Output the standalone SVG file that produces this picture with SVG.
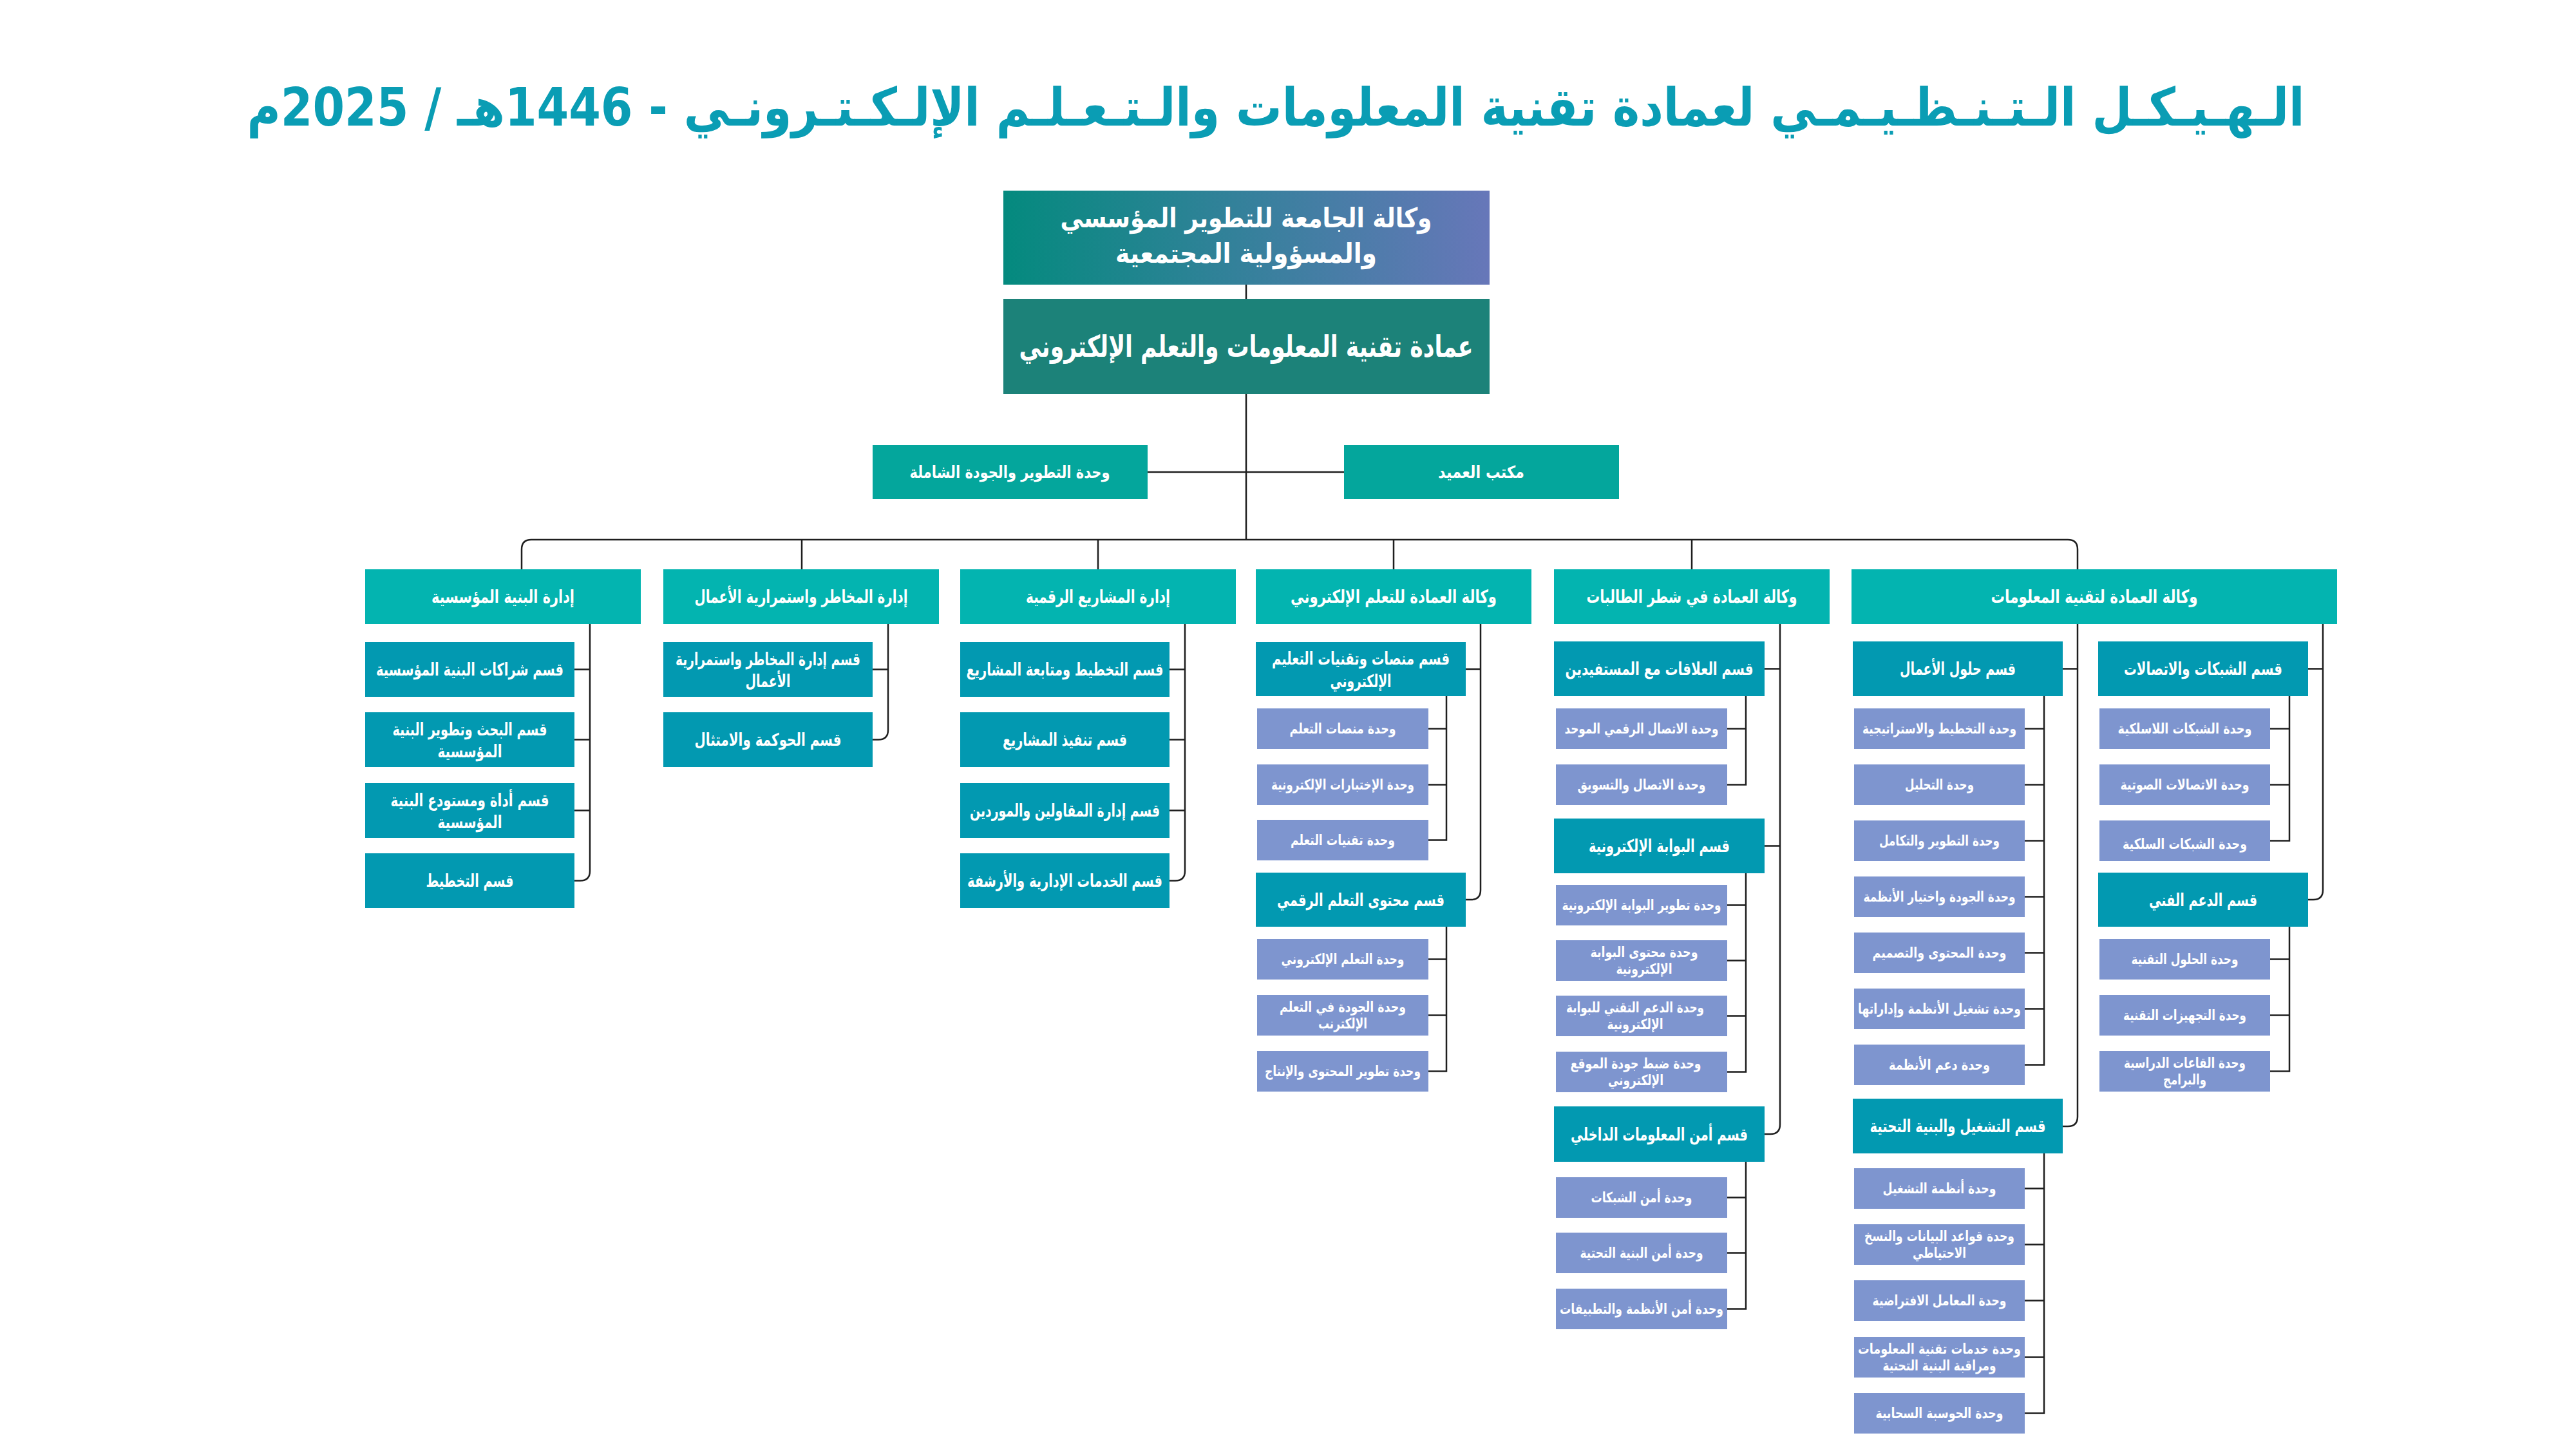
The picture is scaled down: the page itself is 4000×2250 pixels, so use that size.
<svg xmlns="http://www.w3.org/2000/svg" width="4000" height="2250" viewBox="0 0 4000 2250">
<defs>
<linearGradient id="gTop" x1="0" y1="0" x2="1" y2="0">
<stop offset="0" stop-color="#048a7e"/>
<stop offset="1" stop-color="#6777b9"/>
</linearGradient>
</defs>
<style>
.c{fill:none;stroke:#1e1e1e;stroke-width:2.5}
text{font-family:"DejaVu Sans",sans-serif;fill:#ffffff;font-weight:bold;text-anchor:middle;direction:rtl;dominant-baseline:central}
.l1{fill:#03b4b0}
.l2{fill:#0299b1}
.l3{fill:#7e95cf}
.sd{fill:#04a69c}
.f1{font-size:28px}
.f2{font-size:27px}
.f3{font-size:22px}
.ttl{font-size:82px;fill:#0a9db4}
</style>
<rect width="4000" height="2250" fill="#ffffff"/>
<text class="ttl" x="1981" y="166" textLength="3195" lengthAdjust="spacingAndGlyphs">الـهـيـكـل الـتـنـظـيـمـي لعمادة تقنية المعلومات والـتـعـلـم الإلـكـتـرونـي -  1446هـ / 2025م</text>

<g id="connectors">
<path class="c" d="M1935,442 V464"/>
<path class="c" d="M1935,612 V838"/>
<path class="c" d="M1782,733 H2087"/>
<path class="c" d="M810,884 V853 Q810,838 825,838 H3211 Q3226,838 3226,853 V1734 Q3226,1749 3211,1749 H3203"/>
<path class="c" d="M1245,838 V884 M1705,838 V884 M2164,838 V884 M2627,838 V884"/>
<path class="c" d="M916,969 V1352.5 Q916,1367.5 901,1367.5 H892 M892,1039.5 H916 M892,1148.5 H916 M892,1258.5 H916"/>
<path class="c" d="M1379,969 V1133.5 Q1379,1148.5 1364,1148.5 H1355 M1355,1039.5 H1379"/>
<path class="c" d="M1840,969 V1352.5 Q1840,1367.5 1825,1367.5 H1816 M1816,1039.5 H1840 M1816,1148.5 H1840 M1816,1258.5 H1840"/>
<path class="c" d="M2299,969 V1382 Q2299,1397 2284,1397 H2276 M2276,1039 H2299"/>
<path class="c" d="M2246,1081 V1304.5 H2218 M2218,1131.5 H2246 M2218,1218.5 H2246"/>
<path class="c" d="M2246,1439 V1663.5 H2218 M2218,1489.5 H2246 M2218,1576.5 H2246"/>
<path class="c" d="M2764,969 V1746 Q2764,1761 2749,1761 H2740 M2740,1038.5 H2764 M2740,1313.5 H2764"/>
<path class="c" d="M2711,1081 V1218.5 H2682 M2682,1131.5 H2711"/>
<path class="c" d="M2711,1356 V1664.5 H2682 M2682,1405.5 H2711 M2682,1491.5 H2711 M2682,1577.5 H2711"/>
<path class="c" d="M2711,1803 V2032.5 H2682 M2682,1859.5 H2711 M2682,1945.5 H2711"/>
<path class="c" d="M3203,1038.5 H3226"/>
<path class="c" d="M3174,1081 V1653.5 H3144 M3144,1131.5 H3174 M3144,1218.5 H3174 M3144,1305.5 H3174 M3144,1392.5 H3174 M3144,1479.5 H3174 M3144,1566.5 H3174"/>
<path class="c" d="M3174,1791 V2194.5 H3144 M3144,1845.5 H3174 M3144,1932.5 H3174 M3144,2019.5 H3174 M3144,2107.5 H3174"/>
<path class="c" d="M3607,969 V1382 Q3607,1397 3592,1397 H3584 M3584,1038.5 H3607"/>
<path class="c" d="M3555,1081 V1305.5 H3525 M3525,1131.5 H3555 M3525,1218.5 H3555"/>
<path class="c" d="M3555,1439 V1663.5 H3525 M3525,1489.5 H3555 M3525,1576.5 H3555"/>
</g>

<g id="n-top"><rect x="1558" y="296" width="755" height="146" fill="url(#gTop)"/>
<text style="font-size:42px" x="1935" y="338" textLength="577" lengthAdjust="spacingAndGlyphs">وكالة الجامعة للتطوير المؤسسي</text>
<text style="font-size:42px" x="1935" y="393" textLength="406" lengthAdjust="spacingAndGlyphs">والمسؤولية المجتمعية</text></g>
<g id="n-dean"><rect x="1558" y="464" width="755" height="148" fill="#1c8279"/>
<text style="font-size:46px" x="1935" y="538" textLength="705" lengthAdjust="spacingAndGlyphs">عمادة تقنية المعلومات والتعلم الإلكتروني</text></g>
<g id="n-quality"><rect class="sd" x="1355" y="691" width="427" height="84"/>
<text style="font-size:26px" x="1568" y="733" textLength="311" lengthAdjust="spacingAndGlyphs">وحدة التطوير والجودة الشاملة</text></g>
<g id="n-office"><rect class="sd" x="2087" y="691" width="427" height="84"/>
<text style="font-size:26px" x="2300" y="733" textLength="134" lengthAdjust="spacingAndGlyphs">مكتب العميد</text></g>

<!-- Column 1 -->
<g id="n-c1"><rect class="l1" x="567" y="884" width="428" height="85"/>
<text class="f1" x="781" y="926.5" textLength="222" lengthAdjust="spacingAndGlyphs">إدارة البنية المؤسسية</text></g>
<g id="n-c1-1"><rect class="l2" x="567" y="997" width="325" height="85"/>
<text class="f2" x="729.5" y="1039.5" textLength="291" lengthAdjust="spacingAndGlyphs">قسم شراكات البنية المؤسسية</text></g>
<g id="n-c1-2"><rect class="l2" x="567" y="1106" width="325" height="85"/>
<text class="f2" x="729.5" y="1132" textLength="240" lengthAdjust="spacingAndGlyphs">قسم البحث وتطوير البنية</text>
<text class="f2" x="729.5" y="1166" textLength="100" lengthAdjust="spacingAndGlyphs">المؤسسية</text></g>
<g id="n-c1-3"><rect class="l2" x="567" y="1216" width="325" height="85"/>
<text class="f2" x="729.5" y="1242" textLength="246" lengthAdjust="spacingAndGlyphs">قسم أداة ومستودع البنية</text>
<text class="f2" x="729.5" y="1276" textLength="100" lengthAdjust="spacingAndGlyphs">المؤسسية</text></g>
<g id="n-c1-4"><rect class="l2" x="567" y="1325" width="325" height="85"/>
<text class="f2" x="729.5" y="1367.5" textLength="136" lengthAdjust="spacingAndGlyphs">قسم التخطيط</text></g>

<!-- Column 2 -->
<g id="n-c2"><rect class="l1" x="1030" y="884" width="428" height="85"/>
<text class="f1" x="1244" y="926.5" textLength="331" lengthAdjust="spacingAndGlyphs">إدارة المخاطر واستمرارية الأعمال</text></g>
<g id="n-c2-1"><rect class="l2" x="1030" y="997" width="325" height="85"/>
<text class="f2" x="1192.5" y="1023" textLength="287" lengthAdjust="spacingAndGlyphs">قسم إدارة المخاطر واستمرارية</text>
<text class="f2" x="1192.5" y="1057" textLength="70" lengthAdjust="spacingAndGlyphs">الأعمال</text></g>
<g id="n-c2-2"><rect class="l2" x="1030" y="1106" width="325" height="85"/>
<text class="f2" x="1192.5" y="1148.5" textLength="228" lengthAdjust="spacingAndGlyphs">قسم الحوكمة والامتثال</text></g>

<!-- Column 3 -->
<g id="n-c3"><rect class="l1" x="1491" y="884" width="428" height="85"/>
<text class="f1" x="1705" y="926.5" textLength="224" lengthAdjust="spacingAndGlyphs">إدارة المشاريع الرقمية</text></g>
<g id="n-c3-1"><rect class="l2" x="1491" y="997" width="325" height="85"/>
<text class="f2" x="1653.5" y="1039.5" textLength="306" lengthAdjust="spacingAndGlyphs">قسم التخطيط ومتابعة المشاريع</text></g>
<g id="n-c3-2"><rect class="l2" x="1491" y="1106" width="325" height="85"/>
<text class="f2" x="1653.5" y="1148.5" textLength="193" lengthAdjust="spacingAndGlyphs">قسم تنفيذ المشاريع</text></g>
<g id="n-c3-3"><rect class="l2" x="1491" y="1216" width="325" height="85"/>
<text class="f2" x="1653.5" y="1258.5" textLength="295" lengthAdjust="spacingAndGlyphs">قسم إدارة المقاولين والموردين</text></g>
<g id="n-c3-4"><rect class="l2" x="1491" y="1325" width="325" height="85"/>
<text class="f2" x="1653.5" y="1367.5" textLength="303" lengthAdjust="spacingAndGlyphs">قسم الخدمات الإدارية والأرشفة</text></g>

<!-- Column 4 -->
<g id="n-c4"><rect class="l1" x="1950" y="884" width="428" height="85"/>
<text class="f1" x="2164" y="926.5" textLength="320" lengthAdjust="spacingAndGlyphs">وكالة العمادة للتعلم الإلكتروني</text></g>
<g id="n-c4-a"><rect class="l2" x="1950" y="997" width="326" height="84"/>
<text class="f2" x="2113" y="1022" textLength="276" lengthAdjust="spacingAndGlyphs">قسم منصات وتقنيات التعليم</text>
<text class="f2" x="2113" y="1057" textLength="95" lengthAdjust="spacingAndGlyphs">الإلكتروني</text></g>
<g id="n-c4-a1"><rect class="l3" x="1952" y="1100" width="266" height="63"/>
<text class="f3" x="2085" y="1131.5" textLength="165" lengthAdjust="spacingAndGlyphs">وحدة منصات التعلم</text></g>
<g id="n-c4-a2"><rect class="l3" x="1952" y="1187" width="266" height="63"/>
<text class="f3" x="2085" y="1218.5" textLength="222" lengthAdjust="spacingAndGlyphs">وحدة الإختبارات الإلكترونية</text></g>
<g id="n-c4-a3"><rect class="l3" x="1952" y="1273" width="266" height="63"/>
<text class="f3" x="2085" y="1304.5" textLength="162" lengthAdjust="spacingAndGlyphs">وحدة تقنيات التعلم</text></g>
<g id="n-c4-b"><rect class="l2" x="1950" y="1355" width="326" height="84"/>
<text class="f2" x="2113" y="1397" textLength="260" lengthAdjust="spacingAndGlyphs">قسم محتوى التعلم الرقمي</text></g>
<g id="n-c4-b1"><rect class="l3" x="1952" y="1458" width="266" height="63"/>
<text class="f3" x="2085" y="1489.5" textLength="191" lengthAdjust="spacingAndGlyphs">وحدة التعلم الإلكتروني</text></g>
<g id="n-c4-b2"><rect class="l3" x="1952" y="1545" width="266" height="63"/>
<text class="f3" x="2085" y="1563" textLength="196" lengthAdjust="spacingAndGlyphs">وحدة الجودة في التعلم</text>
<text class="f3" x="2085" y="1589" textLength="76" lengthAdjust="spacingAndGlyphs">الإلكترنب</text></g>
<g id="n-c4-b3"><rect class="l3" x="1952" y="1632" width="266" height="63"/>
<text class="f3" x="2085" y="1663.5" textLength="242" lengthAdjust="spacingAndGlyphs">وحدة تطوير المحتوى والإنتاج</text></g>

<!-- Column 5 -->
<g id="n-c5"><rect class="l1" x="2413" y="884" width="428" height="85"/>
<text class="f1" x="2627" y="926.5" textLength="327" lengthAdjust="spacingAndGlyphs">وكالة العمادة في شطر الطالبات</text></g>
<g id="n-c5-a"><rect class="l2" x="2413" y="996" width="327" height="85"/>
<text class="f2" x="2576.5" y="1038.5" textLength="292" lengthAdjust="spacingAndGlyphs">قسم العلاقات مع المستفيدين</text></g>
<g id="n-c5-a1"><rect class="l3" x="2416" y="1100" width="266" height="63"/>
<text class="f3" x="2549" y="1131.5" textLength="239" lengthAdjust="spacingAndGlyphs">وحدة الاتصال الرقمي الموحد</text></g>
<g id="n-c5-a2"><rect class="l3" x="2416" y="1187" width="266" height="63"/>
<text class="f3" x="2549" y="1218.5" textLength="199" lengthAdjust="spacingAndGlyphs">وحدة الاتصال والتسويق</text></g>
<g id="n-c5-b"><rect class="l2" x="2413" y="1271" width="327" height="85"/>
<text class="f2" x="2576.5" y="1313.5" textLength="219" lengthAdjust="spacingAndGlyphs">قسم البوابة الإلكترونية</text></g>
<g id="n-c5-b1"><rect class="l3" x="2416" y="1374" width="266" height="63"/>
<text class="f3" x="2549" y="1405.5" textLength="247" lengthAdjust="spacingAndGlyphs">وحدة تطوير البوابة الإلكترونية</text></g>
<g id="n-c5-b2"><rect class="l3" x="2416" y="1460" width="266" height="63"/>
<text class="f3" x="2553" y="1478" textLength="167" lengthAdjust="spacingAndGlyphs">وحدة محتوى البوابة</text>
<text class="f3" x="2553" y="1504" textLength="87" lengthAdjust="spacingAndGlyphs">الإلكترونية</text></g>
<g id="n-c5-b3"><rect class="l3" x="2416" y="1546" width="266" height="63"/>
<text class="f3" x="2539" y="1564" textLength="214" lengthAdjust="spacingAndGlyphs">وحدة الدعم التقني للبوابة</text>
<text class="f3" x="2539" y="1590" textLength="87" lengthAdjust="spacingAndGlyphs">الإلكترونية</text></g>
<g id="n-c5-b4"><rect class="l3" x="2416" y="1633" width="266" height="63"/>
<text class="f3" x="2540" y="1651" textLength="203" lengthAdjust="spacingAndGlyphs">وحدة ضبط جودة الموقع</text>
<text class="f3" x="2540" y="1677" textLength="86" lengthAdjust="spacingAndGlyphs">الإلكتروني</text></g>
<g id="n-c5-c"><rect class="l2" x="2413" y="1718" width="327" height="86"/>
<text class="f2" x="2576.5" y="1761" textLength="275" lengthAdjust="spacingAndGlyphs">قسم أمن المعلومات الداخلي</text></g>
<g id="n-c5-c1"><rect class="l3" x="2416" y="1828" width="266" height="63"/>
<text class="f3" x="2549" y="1859.5" textLength="157" lengthAdjust="spacingAndGlyphs">وحدة أمن الشبكات</text></g>
<g id="n-c5-c2"><rect class="l3" x="2416" y="1914" width="266" height="63"/>
<text class="f3" x="2549" y="1945.5" textLength="191" lengthAdjust="spacingAndGlyphs">وحدة أمن البنية التحتية</text></g>
<g id="n-c5-c3"><rect class="l3" x="2416" y="2001" width="266" height="63"/>
<text class="f3" x="2549" y="2032.5" textLength="254" lengthAdjust="spacingAndGlyphs">وحدة أمن الأنظمة والتطبيقات</text></g>

<!-- Column 6 -->
<g id="n-c6"><rect class="l1" x="2875" y="884" width="754" height="85"/>
<text class="f1" x="3252" y="926.5" textLength="321" lengthAdjust="spacingAndGlyphs">وكالة العمادة لتقنية المعلومات</text></g>
<g id="n-c6-a"><rect class="l2" x="2877" y="996" width="326" height="85"/>
<text class="f2" x="3040" y="1038.5" textLength="180" lengthAdjust="spacingAndGlyphs">قسم حلول الأعمال</text></g>
<g id="n-c6-a1"><rect class="l3" x="2879" y="1100" width="265" height="63"/>
<text class="f3" x="3011.5" y="1131.5" textLength="239" lengthAdjust="spacingAndGlyphs">وحدة التخطيط والاستراتيجية</text></g>
<g id="n-c6-a2"><rect class="l3" x="2879" y="1187" width="265" height="63"/>
<text class="f3" x="3011.5" y="1218.5" textLength="107" lengthAdjust="spacingAndGlyphs">وحدة التحليل</text></g>
<g id="n-c6-a3"><rect class="l3" x="2879" y="1274" width="265" height="63"/>
<text class="f3" x="3011.5" y="1305.5" textLength="187" lengthAdjust="spacingAndGlyphs">وحدة التطوير والتكامل</text></g>
<g id="n-c6-a4"><rect class="l3" x="2879" y="1361" width="265" height="63"/>
<text class="f3" x="3011.5" y="1392.5" textLength="236" lengthAdjust="spacingAndGlyphs">وحدة الجودة واختيار الأنظمة</text></g>
<g id="n-c6-a5"><rect class="l3" x="2879" y="1448" width="265" height="63"/>
<text class="f3" x="3011.5" y="1479.5" textLength="208" lengthAdjust="spacingAndGlyphs">وحدة المحتوى والتصميم</text></g>
<g id="n-c6-a6"><rect class="l3" x="2879" y="1535" width="265" height="63"/>
<text class="f3" x="3011.5" y="1566.5" textLength="253" lengthAdjust="spacingAndGlyphs">وحدة تشغيل الأنظمة وإداراتها</text></g>
<g id="n-c6-a7"><rect class="l3" x="2879" y="1622" width="265" height="63"/>
<text class="f3" x="3011.5" y="1653.5" textLength="157" lengthAdjust="spacingAndGlyphs">وحدة دعم الأنظمة</text></g>
<g id="n-c6-b"><rect class="l2" x="2877" y="1706" width="326" height="85"/>
<text class="f2" x="3040" y="1748.5" textLength="273" lengthAdjust="spacingAndGlyphs">قسم التشغيل والبنية التحتية</text></g>
<g id="n-c6-b1"><rect class="l3" x="2879" y="1814" width="265" height="63"/>
<text class="f3" x="3011.5" y="1845.5" textLength="176" lengthAdjust="spacingAndGlyphs">وحدة أنظمة التشغيل</text></g>
<g id="n-c6-b2"><rect class="l3" x="2879" y="1901" width="265" height="63"/>
<text class="f3" x="3011.5" y="1919" textLength="233" lengthAdjust="spacingAndGlyphs">وحدة قواعد البيانات والنسخ</text>
<text class="f3" x="3011.5" y="1945" textLength="83" lengthAdjust="spacingAndGlyphs">الاحتياطي</text></g>
<g id="n-c6-b3"><rect class="l3" x="2879" y="1988" width="265" height="63"/>
<text class="f3" x="3011.5" y="2019.5" textLength="208" lengthAdjust="spacingAndGlyphs">وحدة المعامل الافتراضية</text></g>
<g id="n-c6-b4"><rect class="l3" x="2879" y="2076" width="265" height="63"/>
<text class="f3" x="3011.5" y="2094" textLength="253" lengthAdjust="spacingAndGlyphs">وحدة خدمات تقنية المعلومات</text>
<text class="f3" x="3011.5" y="2120" textLength="176" lengthAdjust="spacingAndGlyphs">ومراقبة البنية التحتية</text></g>
<g id="n-c6-b5"><rect class="l3" x="2879" y="2163" width="265" height="63"/>
<text class="f3" x="3011.5" y="2194.5" textLength="198" lengthAdjust="spacingAndGlyphs">وحدة الحوسبة السحابية</text></g>
<g id="n-c6-c"><rect class="l2" x="3258" y="996" width="326" height="85"/>
<text class="f2" x="3421" y="1038.5" textLength="246" lengthAdjust="spacingAndGlyphs">قسم الشبكات والاتصالات</text></g>
<g id="n-c6-c1"><rect class="l3" x="3260" y="1100" width="265" height="63"/>
<text class="f3" x="3392.5" y="1131.5" textLength="208" lengthAdjust="spacingAndGlyphs">وحدة الشبكات اللاسلكية</text></g>
<g id="n-c6-c2"><rect class="l3" x="3260" y="1187" width="265" height="63"/>
<text class="f3" x="3392.5" y="1218.5" textLength="200" lengthAdjust="spacingAndGlyphs">وحدة الاتصالات الصوتية</text></g>
<g id="n-c6-c3"><rect class="l3" x="3260" y="1274" width="265" height="63"/>
<text class="f3" x="3392.5" y="1310" textLength="193" lengthAdjust="spacingAndGlyphs">وحدة الشبكات السلكية</text></g>
<g id="n-c6-d"><rect class="l2" x="3258" y="1355" width="326" height="84"/>
<text class="f2" x="3421" y="1397" textLength="168" lengthAdjust="spacingAndGlyphs">قسم الدعم الفني</text></g>
<g id="n-c6-d1"><rect class="l3" x="3260" y="1458" width="265" height="63"/>
<text class="f3" x="3392.5" y="1489.5" textLength="166" lengthAdjust="spacingAndGlyphs">وحدة الحلول التقنية</text></g>
<g id="n-c6-d2"><rect class="l3" x="3260" y="1545" width="265" height="63"/>
<text class="f3" x="3392.5" y="1576.5" textLength="191" lengthAdjust="spacingAndGlyphs">وحدة التجهيزات التقنية</text></g>
<g id="n-c6-d3"><rect class="l3" x="3260" y="1632" width="265" height="63"/>
<text class="f3" x="3392.5" y="1650" textLength="189" lengthAdjust="spacingAndGlyphs">وحدة القاعات الدراسية</text>
<text class="f3" x="3392.5" y="1676" textLength="67" lengthAdjust="spacingAndGlyphs">والبرامج</text></g>
</svg>
